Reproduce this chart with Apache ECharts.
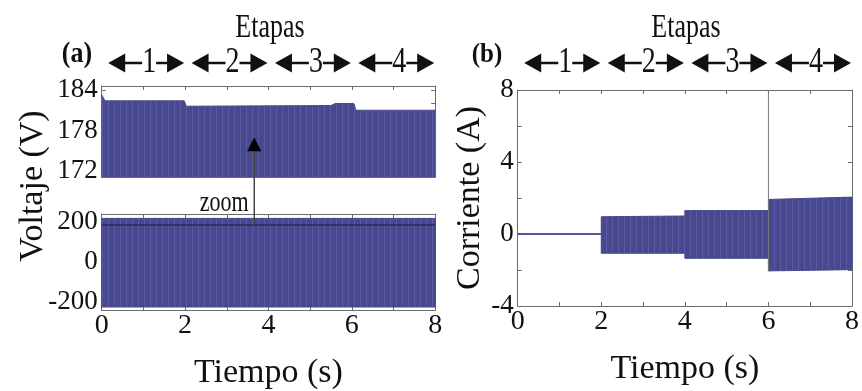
<!DOCTYPE html>
<html><head><meta charset="utf-8">
<script src="https://cdn.jsdelivr.net/npm/echarts@6/dist/echarts.min.js"></script>
<style>html,body{margin:0;padding:0;background:#fff}#c{width:862px;height:391px}</style>
</head><body><div id="c"></div>
<script>
// ================= DATA =================
const etapas = ['1', '2', '3', '4'];
const limitesEtapa = [0, 2, 4, 6, 8];           // s
const tiempoTicks = [0, 1, 2, 3, 4, 5, 6, 7, 8];
const tiempoLabels = [0, 2, 4, 6, 8];

// (a) voltage, zoomed view: peak envelope
const voltZoomLabels = [172, 178, 184];
const voltZoomTicks = [172, 174, 176, 178, 180, 182, 184];
const tVoltPico = [0, 0.08, 0.15, 1.98, 2.03, 5.5, 5.6, 6.05, 6.1, 8.0];
const vVoltPico = [183.3, 182.4, 182.4, 182.4, 181.6, 181.7, 182.0, 182.0, 181.0, 181.0];

// (a) voltage, full view: envelope
const voltLabels = [-200, 0, 200];
const voltTicks = [-200, -100, 0, 100, 200];
const tVolt = [0, 8];
const vVoltMax = [218, 218];
const vVoltMin = [-225, -225];
const vZoomRef = [185, 185];
// zoom arrow (t, value in full view -> value in zoomed view)
const flechaT = 3.66;
const flechaV = [185, 177];

// (b) current envelope
const corrLabels = [-4, 0, 4, 8];
const corrTicks = [-4, -2, 0, 2, 4, 6, 8];
const tCorr = [0, 2, 2, 4, 4, 6, 6, 8];
const iMax = [0.02, 0.02, 0.96, 1.0, 1.3, 1.3, 1.92, 2.05];
const iMin = [-0.02, -0.02, -1.07, -1.07, -1.35, -1.35, -2.05, -1.98];
const tPico = [6, 6];
const iPico = [-2.07, 8];

// ================= CHART =================
const chart = echarts.init(document.getElementById('c'));
const FONT = 'Liberation Serif';
const INK = '#111';
const AXC = '#6b6b6b';
const FILL = '#47488f';

// striped fill pattern (dense waveform look)
const pc = document.createElement('canvas');
pc.width = 6; pc.height = 4;
const pctx = pc.getContext('2d');
pctx.fillStyle = FILL; pctx.fillRect(0, 0, 6, 4);
pctx.fillStyle = '#5a5c9f'; pctx.fillRect(0, 0, 1, 4);
const PAT = {image: pc, repeat: 'repeat'};

const zip = (a, b) => a.map((v, i) => [v, b[i]]);

function xAx(grid, pos, labels, name) {
  return {
    gridIndex: grid, type: 'value', min: 0, max: 8, position: pos,
    name: name || '', nameLocation: 'middle', nameGap: 46,
    nameTextStyle: {fontFamily: FONT, fontSize: 34, color: INK},
    axisLine: {show: true, onZero: false, lineStyle: {color: AXC, width: 1}},
    axisTick: {show: true, inside: true, length: 4, customValues: tiempoTicks, lineStyle: {color: AXC}},
    axisLabel: {show: !!labels, customValues: labels || [], fontFamily: FONT, fontSize: 28, color: INK, margin: 2},
    splitLine: {show: false}
  };
}
function yAx(grid, pos, min, max, ticks, labels, name, gap) {
  return {
    gridIndex: grid, type: 'value', min: min, max: max, position: pos,
    name: name || '', nameLocation: 'middle', nameGap: gap || 0,
    nameTextStyle: {fontFamily: FONT, fontSize: 34, color: INK},
    axisLine: {show: true, onZero: false, lineStyle: {color: AXC, width: 1}},
    axisTick: {show: true, inside: true, length: 4, customValues: ticks, lineStyle: {color: AXC}},
    axisLabel: {show: !!labels, customValues: labels || [], fontFamily: FONT, fontSize: 27, color: INK, margin: 4},
    splitLine: {show: false}
  };
}
// envelope band drawn through the axes' own coordinate conversion
function banda(xi, yi, ts, tops, bots) {
  return {
    type: 'custom', xAxisIndex: xi, yAxisIndex: yi, data: [[ts[0], tops[0]]], clip: true,
    renderItem: function (params, api) {
      const pts = ts.map((t, i) => api.coord([t, tops[i]]));
      for (let i = ts.length - 1; i >= 0; i--) pts.push(api.coord([ts[i], bots[i]]));
      return {type: 'polygon', shape: {points: pts}, style: {fill: PAT, stroke: FILL, lineWidth: 1}};
    }
  };
}

const option = {
  animation: false,
  backgroundColor: '#fff',
  grid: [
    {left: 101.7, top: 86, width: 333.5, height: 91},
    {left: 101.7, top: 214, width: 333.5, height: 96},
    {left: 517.7, top: 90, width: 339, height: 220.5},
    {left: 101.7, top: 86, width: 333.5, height: 200}
  ],
  xAxis: [
    xAx(0, 'bottom', null), xAx(0, 'top', null),
    xAx(1, 'bottom', tiempoLabels, 'Tiempo (s)'), xAx(1, 'top', null),
    xAx(2, 'bottom', tiempoLabels, 'Tiempo (s)'), xAx(2, 'top', null),
    {gridIndex: 3, type: 'value', show: false, min: 0, max: 8}
  ],
  yAxis: [
    yAx(0, 'left', 171.1, 184.6, voltZoomTicks, voltZoomLabels), yAx(0, 'right', 171.1, 184.6, voltZoomTicks, null),
    yAx(1, 'left', -240, 240, voltTicks, voltLabels), yAx(1, 'right', -240, 240, voltTicks, null),
    yAx(2, 'left', -4, 8, corrTicks, corrLabels, 'Corriente (A)', 30), yAx(2, 'right', -4, 8, corrTicks, null),
    {gridIndex: 3, type: 'value', min: 0, max: 1, position: 'left',
      name: 'Voltaje (V)', nameLocation: 'middle', nameGap: 52,
      nameTextStyle: {fontFamily: FONT, fontSize: 34, color: INK},
      axisLine: {show: false}, axisTick: {show: false}, axisLabel: {show: false}, splitLine: {show: false}}
  ],
  series: [
    {type: 'line', xAxisIndex: 0, yAxisIndex: 0, data: zip(tVoltPico, vVoltPico), symbol: 'none',
      lineStyle: {color: FILL, width: 1}, areaStyle: {color: PAT, opacity: 1, origin: 'start'}},
    banda(2, 2, tVolt, vVoltMax, vVoltMin),
    {type: 'line', xAxisIndex: 2, yAxisIndex: 2, data: zip(tVolt, vZoomRef), symbol: 'none', z: 5,
      lineStyle: {color: '#2a2a5a', width: 1.5}},
    {type: 'line', xAxisIndex: 4, yAxisIndex: 4, data: zip(tPico, iPico), symbol: 'none',
      lineStyle: {color: '#777', width: 1}},
    banda(4, 4, tCorr, iMax, iMin)
  ]
};
chart.setOption(option);

// ---------- annotations (text + arrows) ----------
const g = [];
function etapaRow(xAxisIndex, y) {
  const px = t => chart.convertToPixel({xAxisIndex: xAxisIndex}, t);
  for (let i = 0; i < etapas.length; i++) {
    const L = px(limitesEtapa[i]) + 6.5, R = px(limitesEtapa[i + 1]) - 1;
    const D = (L + R) / 2 + 3;
    g.push({type: 'polygon', shape: {points: [[L, y], [L + 17, y - 9.5], [L + 17, y + 9.5]]}, style: {fill: INK}, z: 100});
    g.push({type: 'polygon', shape: {points: [[R, y], [R - 17, y - 9.5], [R - 17, y + 9.5]]}, style: {fill: INK}, z: 100});
    g.push({type: 'line', shape: {x1: L + 10, y1: y, x2: D - 7, y2: y}, style: {stroke: INK, lineWidth: 2.5}, z: 100});
    g.push({type: 'line', shape: {x1: D + 7, y1: y, x2: R - 10, y2: y}, style: {stroke: INK, lineWidth: 2.5}, z: 100});
    g.push({type: 'text', x: D, y: y, scaleY: 1.25,
      style: {text: etapas[i], fontFamily: FONT, fontSize: 28, fill: INK, align: 'center', verticalAlign: 'middle'}, z: 100});
  }
}
etapaRow(2, 63);
etapaRow(4, 63);

const ax = chart.convertToPixel({xAxisIndex: 0}, flechaT);
const yBot = chart.convertToPixel({yAxisIndex: 2}, flechaV[0]);
const yTip = chart.convertToPixel({yAxisIndex: 0}, flechaV[1]);
g.push({type: 'line', shape: {x1: ax, y1: yBot, x2: ax, y2: yTip + 12}, style: {stroke: '#444', lineWidth: 1.5}, z: 90});
g.push({type: 'polygon', shape: {points: [[ax, yTip], [ax - 7, yTip + 14], [ax + 7, yTip + 14]]}, style: {fill: '#000'}, z: 91});

function T(x, y, s, size, sy, bold) {
  g.push({type: 'text', x: x, y: y, scaleY: sy,
    style: {text: s, fontFamily: FONT, fontSize: size, fontWeight: bold ? 'bold' : 'normal', fill: INK, align: 'center', verticalAlign: 'middle'}, z: 100});
}
T(270, 28, 'Etapas', 26, 1.3, false);
T(686, 28, 'Etapas', 26, 1.3, false);
T(77, 55, '(a)', 26, 1.1, true);
T(487, 55, '(b)', 25, 1.1, true);
T(ax - 30, 203, 'zoom', 22, 1.3, false);
chart.setOption({graphic: g});
</script>
</body></html>
